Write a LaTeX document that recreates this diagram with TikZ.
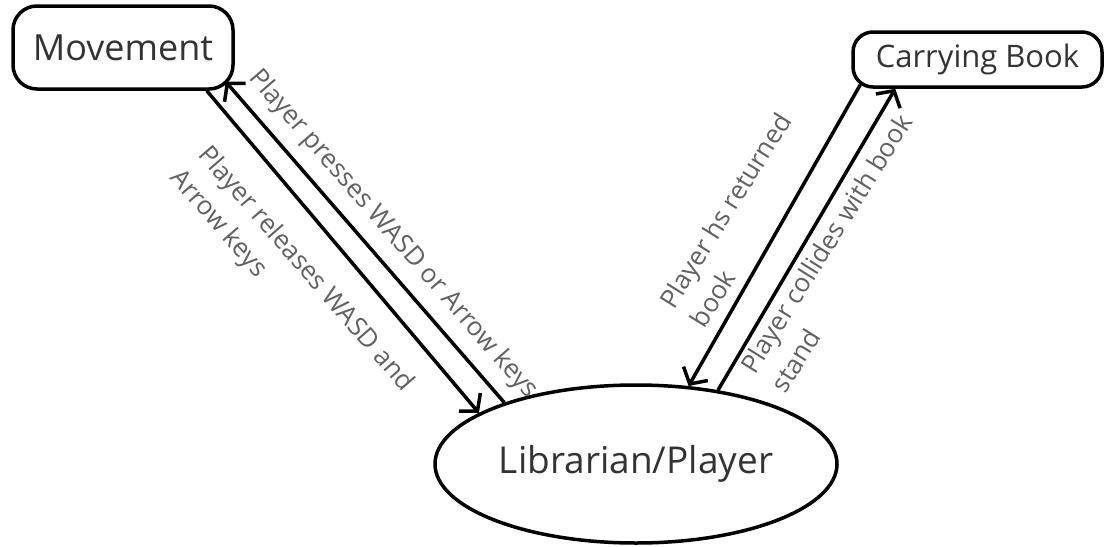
\documentclass[tikz,border=0pt]{standalone}
\usepackage{fontspec}
\setmainfont{Open Sans}
\usetikzlibrary{arrows.meta,shapes.geometric}
\begin{document}
\begin{tikzpicture}[x=1pt,y=-1pt,
  statebox/.style={draw,line width=3.5pt,rounded corners=24pt,text=black!80,inner sep=0pt},
  trans/.style={line width=3.5pt,-{Straight Barb[length=12pt,width=28pt,line width=3.5pt]}},
  lbl/.style={text=black!62,font=\fontsize{26}{36}\selectfont,inner sep=0pt,anchor=north west,align=left}]
\useasboundingbox (0,0) rectangle (1105,546);
\node[statebox,minimum width=220pt,minimum height=83pt,font=\fontsize{36}{40}\selectfont] (mov) at (123,47.5) {Movement};
\node[statebox,rounded corners=20pt,minimum width=249pt,minimum height=55pt,font=\fontsize{31}{36}\selectfont] (cb) at (977.5,59.5) {Carrying Book};
\node[draw,ellipse,line width=3.5pt,minimum width=402pt,minimum height=158pt,inner sep=0pt,font=\fontsize{37}{40}\selectfont,text=black!80] (lib) at (636,464) {Librarian/Player};
\draw[trans] ([xshift=-28pt]mov.south east) -- (lib.162);
\draw[trans] (lib.155) -- ([xshift=-9pt,yshift=9pt]mov.south east);
\draw[trans] ([xshift=9pt,yshift=4pt]cb.south west) -- (lib.56);
\draw[trans] (lib.42) -- ([xshift=44pt]cb.south west);
\node[lbl,rotate=-49] (l1) at (263,65) {Player presses WASD or Arrow keys};
\node[lbl,rotate=-49] (l2) at (212,142) {Player releases WASD and\\Arrow keys};
\node[lbl,rotate=58] (l3) at (657,300) {Player hs returned\\book};
\node[lbl,rotate=58] (l4) at (738,365) {Player collides with book\\stand};
\end{tikzpicture}
\end{document}
